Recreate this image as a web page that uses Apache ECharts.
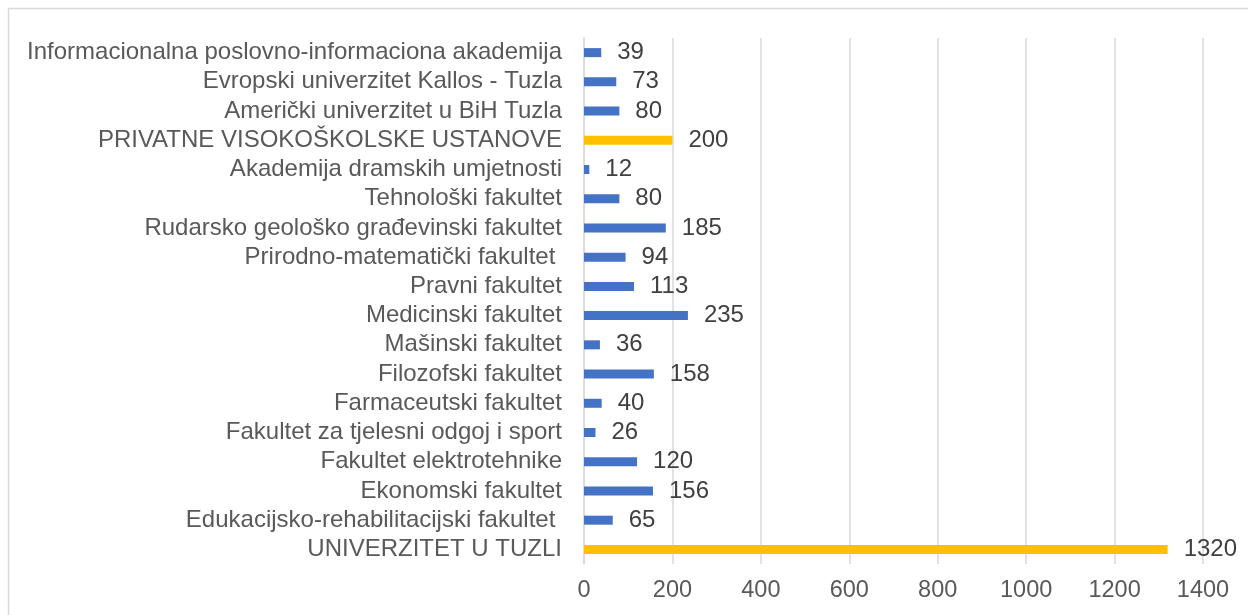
<!DOCTYPE html>
<html>
<head>
<meta charset="utf-8">
<script src="https://cdn.jsdelivr.net/npm/echarts@6/dist/echarts.min.js"></script>
<style>
html, body { margin: 0; padding: 0; background: #fff; }
#chart { width: 1248px; height: 615px; }
</style>
</head>
<body>
<div id="chart"></div>
<script>
// categories listed bottom to top, as the axis draws them
const categories = [
  'UNIVERZITET U TUZLI',
  'Edukacijsko-rehabilitacijski fakultet ',
  'Ekonomski fakultet',
  'Fakultet elektrotehnike',
  'Fakultet za tjelesni odgoj i sport',
  'Farmaceutski fakultet',
  'Filozofski fakultet',
  'Mašinski fakultet',
  'Medicinski fakultet',
  'Pravni fakultet',
  'Prirodno-matematički fakultet ',
  'Rudarsko geološko građevinski fakultet',
  'Tehnološki fakultet',
  'Akademija dramskih umjetnosti',
  'PRIVATNE VISOKOŠKOLSKE USTANOVE',
  'Američki univerzitet u BiH Tuzla',
  'Evropski univerzitet Kallos - Tuzla',
  'Informacionalna poslovno-informaciona akademija'
]
const values = [1320, 65, 156, 120, 26, 40, 158, 36, 235, 113, 94, 185, 80, 12, 200, 80, 73, 39]
// group totals are drawn in yellow
const totalRows = ['UNIVERZITET U TUZLI', 'PRIVATNE VISOKOŠKOLSKE USTANOVE']
const xTicks = [0, 200, 400, 600, 800, 1000, 1200, 1400]

let myChart = echarts.init(document.getElementById('chart'))
let options = {
  animation: false,
  textStyle: { fontFamily: 'Liberation Sans, Arial, sans-serif' },
  graphic: [{
    type: 'rect',
    shape: { x: 8.5, y: 8.5, width: 1260, height: 640 },
    style: { fill: 'none', stroke: '#d9d9d9', lineWidth: 1.5 },
    silent: true
  }],
  grid: { left: 584, right: 45, top: 38, bottom: 51 },
  xAxis: {
    type: 'value',
    min: xTicks[0],
    max: xTicks[xTicks.length - 1],
    interval: 200,
    axisLine: { show: false },
    axisTick: { show: false },
    axisLabel: {
      color: '#595959',
      fontSize: 23.5,
      margin: 15,
      formatter: (val) => String(val)
    },
    splitLine: { lineStyle: { color: '#d9d9d9', width: 1.5 } }
  },
  yAxis: {
    type: 'category',
    data: categories,
    axisLine: { show: true, lineStyle: { color: '#d9d9d9', width: 1.5 } },
    axisTick: { show: false },
    axisLabel: { color: '#595959', fontSize: 24, margin: 22, interval: 0, padding: [3, 0, 0, 0] }
  },
  series: [{
    type: 'bar',
    barWidth: 9,
    data: values.map((v, i) => ({
      value: v,
      itemStyle: { color: totalRows.includes(categories[i]) ? '#ffc000' : '#4472c4' }
    })),
    label: {
      show: true,
      position: 'right',
      distance: 16,
      color: '#404040',
      fontSize: 24,
      padding: [3, 0, 0, 0]
    }
  }]
}
myChart.setOption(options)
</script>
</body>
</html>
